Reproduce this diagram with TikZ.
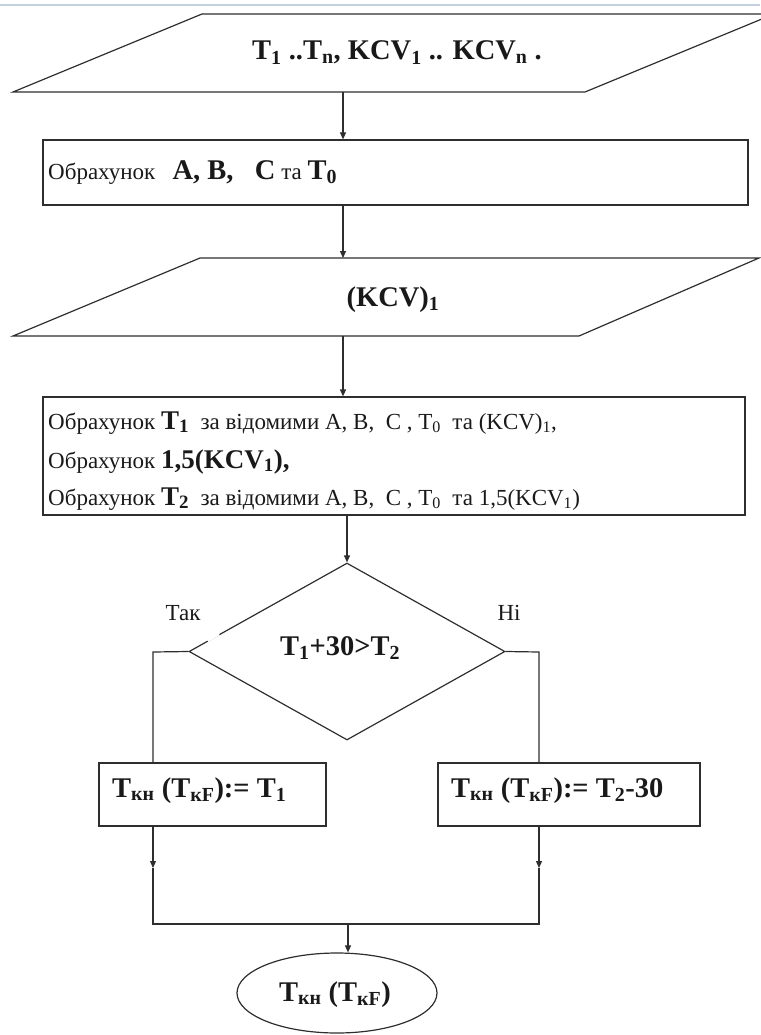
\documentclass[tikz,border=0pt]{standalone}
\usepackage{fontspec}
\setmainfont{Liberation Serif}
\usetikzlibrary{shapes.geometric,arrows.meta}
\newcommand\sbs[1]{\textsubscript{#1}}
\newcommand\nrm{\fontsize{23}{26}\selectfont}
\newcommand\bgb{\fontsize{27}{30}\selectfont\bfseries}
\newcommand\hgb{\fontsize{28.5}{31}\selectfont\bfseries}
\tikzset{
  ln/.style={line width=1.2pt, draw=black!82},
  arr/.style={ln, -{Triangle[length=7pt,width=6pt]}},
  box/.style={ln, rectangle, inner sep=0pt},
  txt/.style={inner sep=0pt, anchor=base west, text=black!90},
  ctxt/.style={inner sep=0pt, anchor=base, text=black!90},
}
\begin{document}
\begin{tikzpicture}[x=1pt,y=-1pt]
\useasboundingbox (0,0) rectangle (760,1035);
\draw[line width=1.5pt, draw={rgb,255:red,196;green,210;blue,224}] (0,5) -- (760,5);

% input 1
\draw[ln] (202,14) -- (774,14) -- (585,92) -- (13,92) -- cycle;
\node[ctxt] (in1) at (397,60) {\hgb T\sbs{1} ..T\sbs{n}, KCV\sbs{1} .. KCV\sbs{n} .};
\coordinate (p1b) at (343,92);

% box 2
\node[box, minimum width=705, minimum height=65] (r2) at (395.5,172.5) {};
\node[txt] (t2) at (48,179) {\nrm Обрахунок \ \ {\hgb A, B, \ \ C} та {\hgb T\sbs{0}}};

% input 2
\coordinate (p2t) at (343,258);
\draw[ln] (200,258) -- (759,258) -- (579,336) -- (13,336) -- cycle;
\node[ctxt] (in2) at (393,306) {\hgb (KCV)\sbs{1}};
\coordinate (p2b) at (343,336);

% box 3
\node[box, minimum width=702, minimum height=118] (r3) at (394,456) {};
\node[txt] (t3a) at (48,429) {\nrm Обрахунок {\bgb T\sbs{1}} \ за відомими A, B, \ C , T\sbs{0} \ та (KCV)\sbs{1},};
\node[txt] (t3b) at (48,468) {\nrm Обрахунок {\bgb 1,5(KCV\sbs{1}),}};
\node[txt] (t3c) at (48,505) {\nrm Обрахунок {\bgb T\sbs{2}} \ за відомими A, B, \ C , T\sbs{0} \ та 1,5(KCV\sbs{1})};

% decision
\node[ln, diamond, minimum width=316, minimum height=177, inner sep=0pt] (dec) at (347,651.5) {};
\draw[white, line width=3pt] (207.5,640.5) -- (219,634);
\node[ctxt] (dect) at (340,655) {\hgb T\sbs{1}+30>T\sbs{2}};
\node[ctxt] (yes) at (183,620) {\nrm Так};
\node[ctxt] (no) at (509,620) {\nrm Ні};

% branch boxes
\node[box, minimum width=227, minimum height=63] (lb) at (212.5,794.5) {};
\node[txt] (lbt) at (112,797) {\hgb T\sbs{кн} (T\sbs{кF}):= T\sbs{1}};
\node[box, minimum width=262, minimum height=63] (rb) at (569,794.5) {};
\node[txt] (rbt) at (451,797) {\hgb T\sbs{кн} (T\sbs{кF}):= T\sbs{2}-30};

% output
\node[ln, ellipse, minimum width=200, minimum height=80, inner sep=0pt] (out) at (337,993) {};
\node[ctxt] (outt) at (335,1001) {\hgb T\sbs{кн} (T\sbs{кF})};

% coordinates
\coordinate (lx) at (153,652);
\coordinate (rx) at (539,652);
\coordinate (lmid) at (153,868);
\coordinate (rmid) at (539,868);
\coordinate (lj) at (153,924);
\coordinate (rj) at (539,924);
\coordinate (mj) at (348,924);

% connectors
\draw[arr] (p1b) -- (r2.north -| p1b);
\draw[arr] (r2.south -| p1b) -- (p2t);
\draw[arr] (p2b) -- (r3.north -| p2b);
\draw[arr] (r3.south -| dec.north) -- (dec.north);
\draw[ln] (dec.west) -- (lx) -- (lx |- lb.north);
\draw[ln] (dec.east) -- (rx) -- (rx |- rb.north);
\draw[arr] (lx |- lb.south) -- (lmid);
\draw[arr] (rx |- rb.south) -- (rmid);
\draw[ln] (lmid) -- (lj) -- (rj) -- (rmid);
\draw[arr] (mj) -- (mj |- out.north);
\end{tikzpicture}
\end{document}
